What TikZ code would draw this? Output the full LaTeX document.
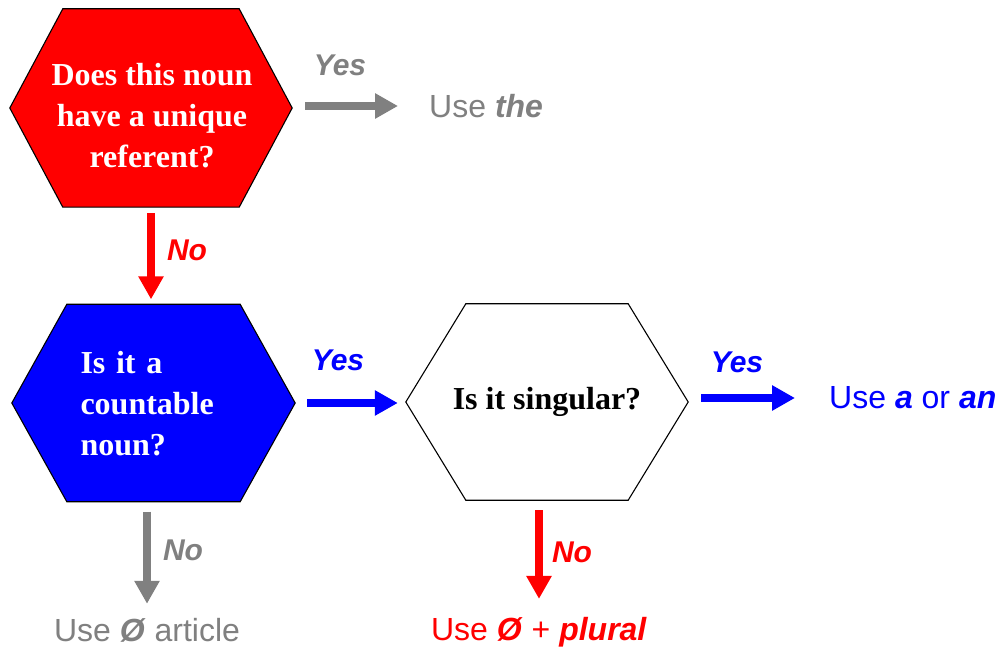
\documentclass[tikz,border=0pt]{standalone}
\usepackage{fontspec}
\setmainfont{Liberation Serif}
\setsansfont{Liberation Sans}
\usetikzlibrary{arrows.meta,calc}
\definecolor{rd}{RGB}{255,0,0}
\definecolor{bl}{RGB}{0,0,255}
\definecolor{gr}{RGB}{128,128,128}
\tikzset{
  hexbox/.style={draw=none,inner sep=0pt,minimum width=#1},
  qtext/.style={font=\fontsize{32}{41}\selectfont\bfseries\rmfamily,inner sep=0pt},
  lbl/.style={font=\fontsize{30}{34}\selectfont\sffamily\bfseries\itshape,inner sep=0pt,text=#1},
  res/.style={font=\fontsize{32}{36}\selectfont\sffamily,inner sep=0pt,text=#1},
  bigarrow/.style={draw=#1,line width=8pt,-{Triangle[length=23pt,width=24pt,fill=#1]}}
}
\newcommand{\hexa}[3]{% node, inset, colour
  \draw[line width=1.1pt,fill=#3] (#1.west) -- ([xshift=#2]#1.north west) -- ([xshift=-#2]#1.north east) -- (#1.east) -- ([xshift=-#2]#1.south east) -- ([xshift=#2]#1.south west) -- cycle;}
\begin{document}
\begin{tikzpicture}[x=1pt,y=-1pt]
\useasboundingbox (0,0) rectangle (1005,652);
% shapes
\node[hexbox=282pt,minimum height=198pt] (q1) at (151,108) {};
\node[hexbox=283pt,minimum height=197pt] (q2) at (153.5,403) {};
\node[hexbox=282pt,minimum height=196pt] (q3) at (547,402) {};
\hexa{q1}{53pt}{rd}
\hexa{q2}{55pt}{bl}
\hexa{q3}{60pt}{white}
% question texts
\node[qtext,text=white,align=center] (t1) at (152,116) {Does this noun\\have a unique\\referent?};
\node[qtext,text=white,align=left,text width=146pt] (t2) at (153.5,404) {Is it a\\countable\\noun?};
\node[qtext,text=black] (t3) at (547,402) {Is it singular?};
% results
\node[res=gr,anchor=west] (a1) at (429,106) {Use \textbf{\textit{the}}};
\node[res=bl,anchor=west] (a3) at (829,398) {Use \textbf{\textit{a}} or \textbf{\textit{an}}};
\node[res=gr] (a2) at (147,630) {Use \textbf{\textit{Ø}} article};
\node[res=rd] (a4) at (539,632) {Use \textbf{\textit{Ø}} + \textbf{\textit{plural}}};
% labels
\node[lbl=gr] (y1) at (340,65) {Yes};
\node[lbl=rd] (n1) at (187,250) {No};
\node[lbl=bl] (y2) at (338,360) {Yes};
\node[lbl=bl] (y3) at (737,362) {Yes};
\node[lbl=gr] (n2) at (183,550) {No};
\node[lbl=rd] (n3) at (572,552) {No};
% arrows
\draw[bigarrow=gr,shorten <=13pt,shorten >=31pt] (q1.east |- a1.west) -- (a1.west);
\draw[bigarrow=rd,shorten <=6pt,shorten >=5pt] (q1.south) -- (q1.south |- q2.north);
\draw[bigarrow=bl,shorten <=12pt,shorten >=8pt] (q2.east) -- (q2.east -| q3.west);
\draw[bigarrow=bl,shorten <=13pt,shorten >=34pt] (q3.east |- a3.west) -- (a3.west);
\draw[bigarrow=gr,shorten <=10pt,shorten >=14pt] (a2.north |- q2.south) -- (a2.north);
\draw[bigarrow=rd,shorten <=10pt,shorten >=18pt] (a4.north |- q3.south) -- (a4.north);
\end{tikzpicture}
\end{document}
